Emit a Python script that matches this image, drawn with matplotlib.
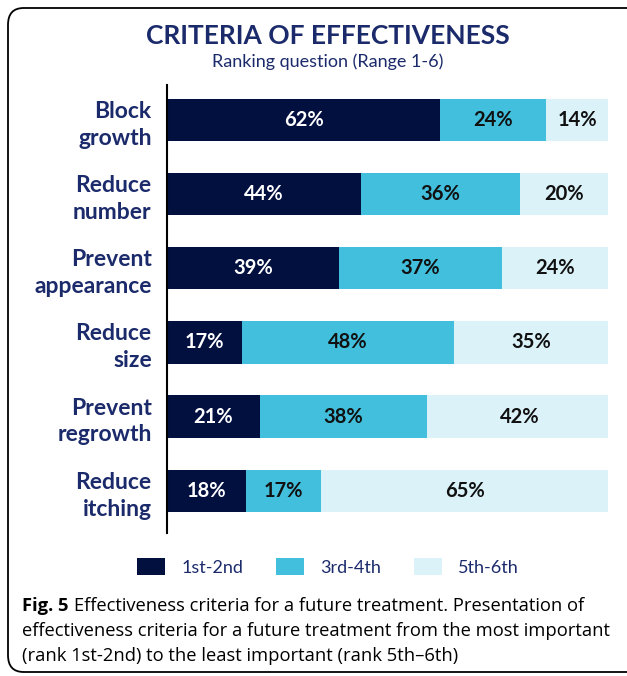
import numpy as np
import matplotlib.pyplot as plt
from matplotlib.patches import FancyBboxPatch

# Data
criteria = ["Block\ngrowth", "Reduce\nnumber", "Prevent\nappearance",
            "Reduce\nsize", "Prevent\nregrowth", "Reduce\nitching"]
rank_12 = [62, 44, 39, 17, 21, 18]
rank_34 = [24, 36, 37, 48, 38, 17]
rank_56 = [14, 20, 24, 35, 42, 65]
series_names = ["1st-2nd", "3rd-4th", "5th-6th"]

colors = ["#021040", "#41BFDC", "#DBF2F8"]
text_colors = ["white", "#111111", "#111111"]
navy = "#1B2A6B"

plt.rcParams['font.family'] = ['Lato', 'DejaVu Sans']

fig = plt.figure(figsize=(6.27, 6.76), dpi=100)

# Outer rounded frame
frame = FancyBboxPatch((8 / 627, 4 / 676), 640 / 627, 664 / 676,
                       boxstyle="round,pad=0,rounding_size=0.025",
                       transform=fig.transFigure, fill=False,
                       edgecolor="black", linewidth=1.3)
fig.patches.append(frame)

ax = fig.add_axes([167 / 627, 1 - 533 / 676, 441 / 627, 448 / 676])

y = np.arange(len(criteria))
left = np.zeros(len(criteria))
for vals, col, tcol, name in zip([rank_12, rank_34, rank_56], colors, text_colors, series_names):
    vals = np.array(vals)
    ax.barh(y, vals, left=left, height=0.57, color=col, label=name, edgecolor="none")
    for yi, l, v in zip(y, left, vals):
        ax.text(l + v / 2, yi, f"{v}%", ha="center", va="center",
                color=tcol, fontsize=14.5, fontweight="bold")
    left = left + vals

ax.set_xlim(0, 100)
ax.set_ylim(5.57, -0.47)
ax.set_yticks(y)
ax.set_yticklabels(criteria, fontsize=16.5, fontweight="bold", color=navy,
                   linespacing=1.35)
ax.tick_params(axis="y", length=0, pad=11)
ax.set_xticks([])
for s in ["top", "right", "bottom"]:
    ax.spines[s].set_visible(False)
ax.spines["left"].set_linewidth(1.5)
ax.spines["left"].set_color("black")

# Titles
fig.text(328 / 627, 1 - 36 / 676, "CRITERIA OF EFFECTIVENESS", ha="center", va="center",
         fontsize=19, fontweight="bold", color=navy)
fig.text(328 / 627, 1 - 62 / 676, "Ranking question (Range 1-6)", ha="center", va="center",
         fontsize=13, color=navy)

# Legend
handles, labels = ax.get_legend_handles_labels()
fig.legend(handles, labels, loc="center", bbox_to_anchor=(328 / 627, 1 - 567 / 676),
           ncol=3, frameon=False, fontsize=13, labelcolor=navy,
           handlelength=1.55, handleheight=1.1, columnspacing=1.8, handletextpad=0.9)

# Caption
cap_font = ['Open Sans', 'DejaVu Sans']
cap_size = 13.2
fig.canvas.draw()
renderer = fig.canvas.get_renderer()
fig_lbl = fig.text(22 / 627, 1 - 606 / 676, "Fig. 5", ha="left", va="center",
                   fontsize=cap_size, fontweight="bold", family=cap_font)
bb = fig_lbl.get_window_extent(renderer)
fig.text((bb.x1 + 5) / 627, 1 - 606 / 676,
         "Effectiveness criteria for a future treatment. Presentation of",
         ha="left", va="center", fontsize=cap_size, family=cap_font)
fig.text(22 / 627, 1 - 631 / 676,
         "effectiveness criteria for a future treatment from the most important",
         ha="left", va="center", fontsize=cap_size, family=cap_font)
fig.text(22 / 627, 1 - 656 / 676,
         "(rank 1st-2nd) to the least important (rank 5th\u20136th)",
         ha="left", va="center", fontsize=cap_size, family=cap_font)

plt.savefig("out.png", dpi=100)
